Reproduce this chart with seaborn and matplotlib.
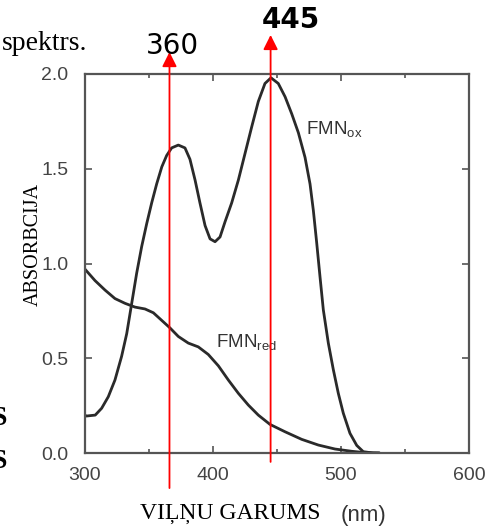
import matplotlib
matplotlib.use("Agg")
import matplotlib.pyplot as plt
import seaborn as sns
import pandas as pd

# ---- data ----
ox_wavelength = [300, 301, 308, 313, 318.2, 323.4, 328.6, 332.6, 336.5, 340.4, 344.3,
                 348.2, 352.1, 356, 360, 363.8, 367.7, 372.9, 378.1, 382, 386, 389.8,
                 393.8, 397.7, 401.6, 405.5, 409.4, 414.6, 419.8, 425, 430.2, 435.4,
                 440.6, 445.3, 451, 456.3, 461.5, 466.7, 471.9, 475.8, 478.4, 481,
                 483.6, 486.2, 490.1, 494, 497.9, 501.8, 507, 512.3, 517.4, 525, 530]
ox_absorb = [0.20, 0.195, 0.20, 0.236, 0.297, 0.385, 0.51, 0.63, 0.79, 0.95, 1.09,
             1.21, 1.32, 1.42, 1.51, 1.57, 1.61, 1.625, 1.61, 1.55, 1.44, 1.32,
             1.20, 1.13, 1.115, 1.14, 1.22, 1.32, 1.44, 1.58, 1.72, 1.855,
             1.95, 1.98, 1.95, 1.88, 1.79, 1.69, 1.56, 1.42, 1.28, 1.11,
             0.93, 0.755, 0.58, 0.44, 0.315, 0.21, 0.104, 0.04, 0.007, 0.0, 0.0]

red_wavelength = [300, 307.8, 315.6, 323.4, 331.2, 339, 346.9, 353.4, 359.9, 366.4,
                  372.9, 380.7, 388.5, 396.3, 404.2, 412, 419.8, 427.6, 435.4, 444.5,
                  456.3, 469.3, 482.3, 495.3, 508.4, 518.8, 530]
red_absorb = [0.97, 0.91, 0.86, 0.815, 0.79, 0.77, 0.76, 0.74, 0.70, 0.66,
              0.615, 0.58, 0.56, 0.52, 0.46, 0.385, 0.315, 0.253, 0.20, 0.151,
              0.112, 0.072, 0.042, 0.021, 0.009, 0.002, 0.0]

marker_wavelengths = [366, 445]
marker_labels = ["360", "445"]

x_ticks = [300, 400, 500, 600]
y_ticks = [0.0, 0.5, 1.0, 1.5, 2.0]

df_ox = pd.DataFrame({"wl": ox_wavelength, "A": ox_absorb})
df_red = pd.DataFrame({"wl": red_wavelength, "A": red_absorb})

sns.set_style("ticks")
W, H = 492, 526
fig = plt.figure(figsize=(W / 100, H / 100), dpi=100)
ax = fig.add_axes([85 / W, (H - 453) / H, (469 - 85) / W, (453 - 74) / H])

curve_color = "#2a2a2a"
sns.lineplot(data=df_ox, x="wl", y="A", ax=ax, color=curve_color, lw=2.0, sort=False)
sns.lineplot(data=df_red, x="wl", y="A", ax=ax, color=curve_color, lw=2.0, sort=False)

ax.set_xlim(300, 600)
ax.set_ylim(0, 2.0)
ax.set_xticks(x_ticks)
ax.set_xticks([350, 450, 550], minor=True)
ax.set_yticks(y_ticks)
ax.set_xticklabels([str(v) for v in x_ticks])
ax.set_yticklabels([f"{v:.1f}" for v in y_ticks])
ax.set_xlabel("")
ax.set_ylabel("")

frame_color = "#555555"
for s in ax.spines.values():
    s.set_color(frame_color)
    s.set_linewidth(1.6)
ax.tick_params(axis="both", which="both", direction="in", top=True, right=True,
               color=frame_color, width=1.2)
ax.tick_params(axis="both", which="major", length=5, labelsize=14,
               labelcolor="#444444", pad=12)
ax.tick_params(axis="x", which="major", pad=10)
ax.tick_params(axis="both", which="minor", length=3)
for lab in ax.get_xticklabels() + ax.get_yticklabels():
    lab.set_fontfamily("Liberation Sans")

# curve labels
ax.text(473, 1.68, r"FMN$_{\mathregular{ox}}$", fontsize=13.5, color="#333333",
        family="Liberation Sans")
ax.text(402, 0.555, r"FMN$_{\mathregular{red}}$", fontsize=13.5, color="#333333",
        family="Liberation Sans")

# red marker lines with arrows
tops = [2.116, 2.206]
bottoms = [-0.185, -0.047]
for wl, top, bot in zip(marker_wavelengths, tops, bottoms):
    ax.annotate("", xy=(wl, top), xytext=(wl, bot), xycoords="data",
                arrowprops=dict(arrowstyle="-|>", color="red", lw=1.3,
                                mutation_scale=22, shrinkA=0, shrinkB=0),
                annotation_clip=False)

# labels above arrows
fig.text(172 / W, 1 - 46 / H, marker_labels[0], fontsize=20, ha="center", va="center",
         family="DejaVu Sans", color="black")
fig.text(291 / W, 1 - 20 / H, marker_labels[1], fontsize=20, ha="center", va="center",
         family="DejaVu Sans", fontweight="bold", color="black")

# axis titles
fig.text(33 / W, 1 - 245 / H, "ABSORBCIJA", rotation=90, fontsize=14.5,
         ha="center", va="center", family="Liberation Serif", color="black")
fig.text(230 / W, 1 - 514 / H, "VIĻŅU GARUMS", fontsize=17,
         ha="center", va="center", family="Liberation Serif", color="black")
fig.text(364 / W, 1 - 515 / H, "(nm)", fontsize=16,
         ha="center", va="center", family="Liberation Sans", color="#333333")

# cut-off text fragments from the source page
fig.text(87 / W, 1 - 50 / H, "spektrs.", fontsize=20, ha="right", va="baseline",
         family="Liberation Serif", color="black")
fig.text(7 / W, 1 - 425 / H, "S", fontsize=20, ha="right", va="baseline",
         family="Liberation Serif", fontweight="bold", color="black")
fig.text(7 / W, 1 - 468 / H, "S", fontsize=20, ha="right", va="baseline",
         family="Liberation Serif", fontweight="bold", color="black")

fig.savefig("out.png", dpi=100)
